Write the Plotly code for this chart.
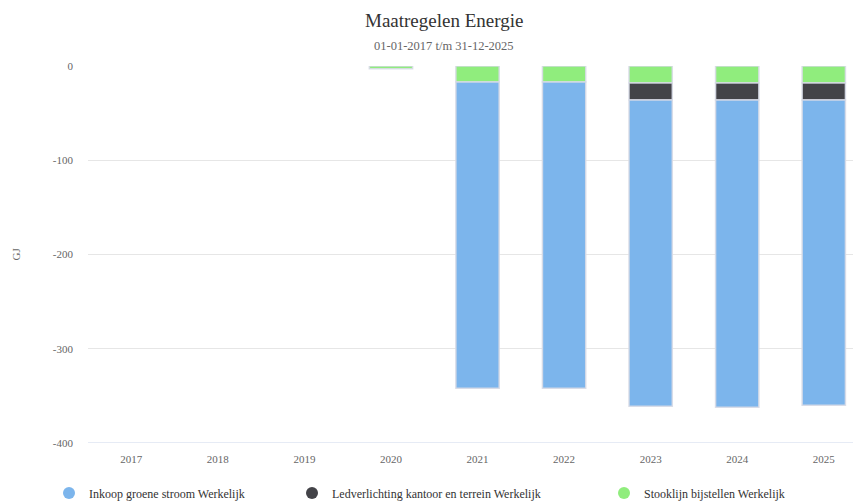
import plotly.graph_objects as go

# Data (GJ, negative = savings)
years = ["2017", "2018", "2019", "2020", "2021", "2022", "2023", "2024", "2025"]
groene_stroom = [None, None, None, None, -325, -325, -325, -326, -324]
ledverlichting = [None, None, None, None, None, None, -18, -18, -18]
stooklijn = [None, None, None, -3, -17, -17, -18, -18, -18]
y_ticks = [0, -100, -200, -300, -400]
y_ticktext = ["0", "-100", "-200", "-300", "-400"]

series_names = [
    "Inkoop groene stroom Werkelijk",
    "Ledverlichting kantoor en terrein Werkelijk",
    "Stooklijn bijstellen Werkelijk",
]
series_colours = ["#7cb5ec", "#434348", "#90ed7d"]

FONT = "Liberation Serif, Times New Roman, serif"
W, H = 861, 503
# the page body adds an 8px offset, so margins are shifted to compensate
L, R, T, B = 80, 8, 58, 68
plot_w = W - L - R
plot_h = H - T - B
title_cx = (436 - L) / plot_w  # title centre sits left of the plot centre

fig = go.Figure()

# Stacking: first trace sits closest to zero, so add green first
for vals, colour in [
    (stooklijn, series_colours[2]),
    (ledverlichting, series_colours[1]),
    (groene_stroom, series_colours[0]),
]:
    fig.add_trace(
        go.Bar(
            x=years,
            y=vals,
            marker=dict(color=colour, line=dict(color="rgba(215,218,230,0.9)", width=1.5)),
            width=0.5,
            showlegend=False,
            hoverinfo="skip",
        )
    )

# Legend entries with round symbols, each in its own legend so spacing matches
legend_x = [41, 284, 596]
legend_keys = ["legend", "legend2", "legend3"]
for name, colour, key in zip(series_names, series_colours, legend_keys):
    fig.add_trace(
        go.Scatter(
            x=[None],
            y=[None],
            mode="markers",
            name=name,
            legend=key,
            marker=dict(color=colour, size=12, symbol="circle"),
        )
    )

legend_style = dict(
    orientation="h",
    xref="container",
    yref="container",
    y=(H - 485) / H,
    yanchor="middle",
    xanchor="left",
    font=dict(family=FONT, size=12, color="#333333"),
    bgcolor="rgba(0,0,0,0)",
)

fig.update_layout(
    barmode="relative",
    width=W,
    height=H,
    paper_bgcolor="white",
    plot_bgcolor="white",
    margin=dict(l=L, r=R, t=T, b=B, autoexpand=False),
    font=dict(family=FONT, color="#666666", size=11),
    legend=dict(legend_style, x=legend_x[0] / W),
    legend2=dict(legend_style, x=legend_x[1] / W),
    legend3=dict(legend_style, x=legend_x[2] / W),
    xaxis=dict(
        range=[-0.5, 8.43],
        showgrid=False,
        showline=False,
        ticks="",
        automargin=False,
        ticklabelstandoff=8,
        tickfont=dict(size=11, color="#666666"),
    ),
    yaxis=dict(
        range=[-400, 0],
        tickvals=y_ticks,
        ticktext=y_ticktext,
        gridcolor="#e6e6e6",
        zeroline=False,
        showline=False,
        ticks="",
        automargin=False,
        ticklabelstandoff=14,
        tickfont=dict(size=11, color="#666666"),
    ),
    annotations=[
        dict(
            text="Maatregelen Energie",
            xref="paper", yref="paper",
            x=title_cx, y=1 + (T - 12) / plot_h,
            xanchor="center", yanchor="middle",
            showarrow=False,
            font=dict(family=FONT, size=19, color="#333333"),
        ),
        dict(
            text="01-01-2017 t/m 31-12-2025",
            xref="paper", yref="paper",
            x=title_cx, y=1 + (T - 38) / plot_h,
            xanchor="center", yanchor="middle",
            showarrow=False,
            font=dict(family=FONT, size=12.5, color="#666666"),
        ),
        dict(
            text="GJ",
            xref="paper", yref="paper",
            x=(7 - L) / plot_w, y=0.5,
            xanchor="center", yanchor="middle",
            textangle=-90,
            showarrow=False,
            font=dict(family=FONT, size=11, color="#666666"),
        ),
    ],
)

# Bottom axis line in Highcharts blue-grey
fig.add_shape(
    type="line", xref="paper", yref="y", x0=0, x1=1, y0=-400, y1=-400,
    line=dict(color="#ccd6eb", width=1),
)

fig.write_html("out.html")
